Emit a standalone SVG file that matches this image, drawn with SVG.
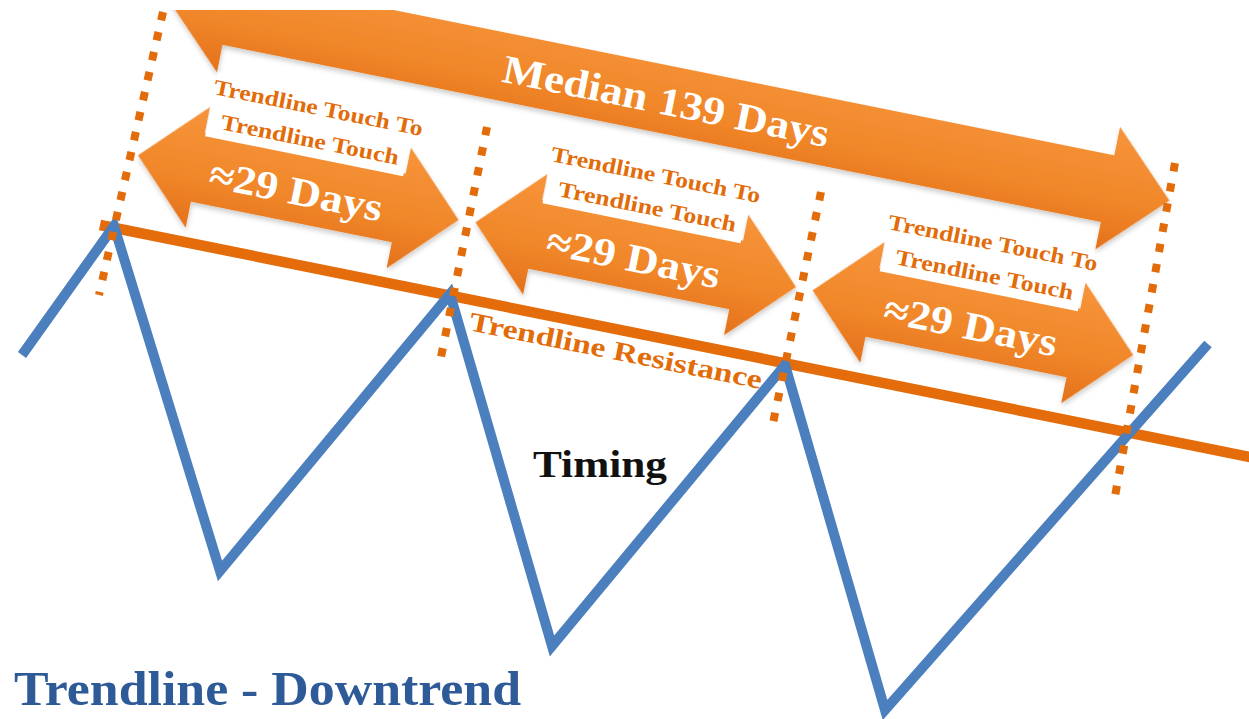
<svg xmlns="http://www.w3.org/2000/svg" width="1249" height="719" viewBox="0 0 1249 719">
<defs>
<linearGradient id="og" x1="0" y1="0" x2="0" y2="1">
<stop offset="0" stop-color="#f7943b"/>
<stop offset="0.6" stop-color="#f08629"/>
<stop offset="1" stop-color="#e4711b"/>
</linearGradient>
<filter id="sh" x="-5%" y="-20%" width="110%" height="150%">
<feDropShadow dx="1" dy="3" stdDeviation="2.5" flood-color="#000" flood-opacity="0.2"/>
</filter>
<clipPath id="clipTop"><rect x="0" y="10" width="1249" height="709"/></clipPath>
<path id="dbl" d="M0,0 L61,-61.5 L61,-35 L266,-35 L266,-61.5 L327,0 L266,61.5 L266,35 L61,35 L61,61.5 Z"/>
</defs>
<style>
.serif{font-family:"Liberation Serif","DejaVu Serif",serif;font-weight:bold}
.lbl{fill:#e36c0a;font-size:22px}
.days{fill:#ffffff;font-size:40px}
.dots{stroke:#e36c0a;stroke-width:8;stroke-dasharray:8.5 12;fill:none}
.arrow{fill:url(#og);filter:url(#sh)}
</style>
<rect x="0" y="0" width="1249" height="719" fill="#ffffff"/>

<g id="median-arrow" clip-path="url(#clipTop)">
<g transform="rotate(11.4)">
<path class="arrow" d="M164,-34.5 L227,-97 L227,-68 L1123,-68 L1123,-97 L1186,-34.5 L1123,28 L1123,0 L227,0 L227,28 Z"/>
<text class="serif days" x="507" y="-19" textLength="332" lengthAdjust="spacingAndGlyphs">Median 139 Days</text>
</g>
</g>

<g transform="rotate(11.4)">
<g id="arrow-1">
<use href="#dbl" class="arrow" transform="translate(166,125)"/>
<rect x="228" y="28" width="202" height="65" fill="#ffffff"/>
<text class="serif lbl" x="227" y="50" textLength="213" lengthAdjust="spacingAndGlyphs">Trendline Touch To</text>
<text class="serif lbl" x="241" y="83" textLength="181" lengthAdjust="spacingAndGlyphs">Trendline Touch</text>
<text class="serif days" x="240" y="142" textLength="176" lengthAdjust="spacingAndGlyphs">≈29 Days</text>
</g>
<g id="arrow-2">
<use href="#dbl" class="arrow" transform="translate(510,124)"/>
<rect x="572" y="27" width="202" height="65" fill="#ffffff"/>
<text class="serif lbl" x="571" y="49" textLength="213" lengthAdjust="spacingAndGlyphs">Trendline Touch To</text>
<text class="serif lbl" x="585" y="82" textLength="181" lengthAdjust="spacingAndGlyphs">Trendline Touch</text>
<text class="serif days" x="584" y="141" textLength="176" lengthAdjust="spacingAndGlyphs">≈29 Days</text>
</g>
<g id="arrow-3">
<use href="#dbl" class="arrow" transform="translate(854,124)"/>
<rect x="916" y="27" width="202" height="65" fill="#ffffff"/>
<text class="serif lbl" x="915" y="49" textLength="213" lengthAdjust="spacingAndGlyphs">Trendline Touch To</text>
<text class="serif lbl" x="929" y="82" textLength="181" lengthAdjust="spacingAndGlyphs">Trendline Touch</text>
<text class="serif days" x="928" y="141" textLength="176" lengthAdjust="spacingAndGlyphs">≈29 Days</text>
</g>
</g>

<g id="trendline">
<line x1="100" y1="225" x2="1260" y2="459" stroke="#e46c0a" stroke-width="10.5"/>
<text class="serif lbl" transform="rotate(11.4)" x="524" y="231" style="font-size:27px" textLength="298" lengthAdjust="spacingAndGlyphs">Trendline Resistance</text>
</g>

<g id="price-line">
<polyline points="22,355 114,226 220,571 450,294 552,646 785,365 885,710 1208,344" fill="none" stroke="#4c7fbd" stroke-width="10" stroke-linejoin="miter"/>
</g>

<g id="connectors">
<line class="dots" x1="163" y1="12" x2="99" y2="295"/>
<line class="dots" x1="487" y1="127" x2="440" y2="362"/>
<line class="dots" x1="821" y1="192" x2="772" y2="428"/>
<line class="dots" x1="1175" y1="163" x2="1114" y2="502"/>
</g>

<g id="timing-label">
<text class="serif" x="533" y="477" font-size="38" fill="#111111" textLength="134" lengthAdjust="spacingAndGlyphs">Timing</text>
</g>

<g id="title">
<text class="serif" x="14" y="705" font-size="48" fill="#2e5b97" textLength="507" lengthAdjust="spacingAndGlyphs">Trendline - Downtrend</text>
</g>
</svg>
